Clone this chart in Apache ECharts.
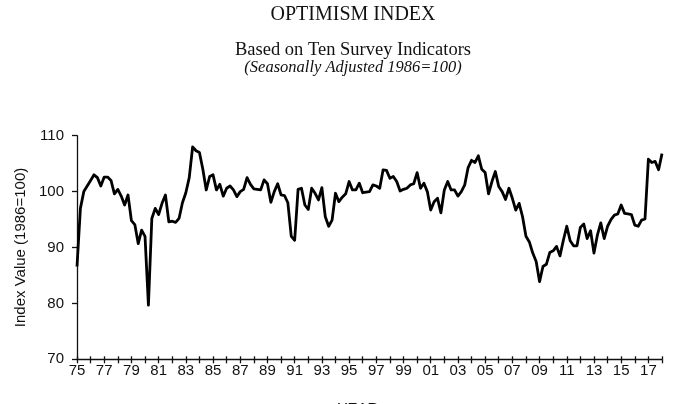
<!DOCTYPE html>
<html>
<head>
<meta charset="utf-8">
<script src="https://cdn.jsdelivr.net/npm/echarts@6/dist/echarts.min.js"></script>
<style>html,body{margin:0;padding:0;background:#fff;}#c{width:680px;height:404px;}</style>
</head>
<body>
<div id="c"></div>
<script>
// Quarterly index values, first quarter of 1975 onward
const startYear = 1975;
const optimism = [
  86.6, 97.0, 100.0, 101.0,
  102.0, 103.0, 102.5, 101.0,
  102.6, 102.6, 102.0, 99.6,
  100.4, 99.2, 97.6, 99.4,
  94.8, 94.1, 90.7, 93.1,
  92.0, 79.7, 95.2, 97.0,
  95.9, 97.9, 99.4, 94.6,
  94.7, 94.5, 95.2, 98.0,
  99.8, 102.5, 108.0, 107.3,
  107.0, 104.0, 100.3, 102.7,
  103.0, 100.3, 101.3, 99.2,
  100.6, 101.0, 100.3, 99.1,
  100.0, 100.4, 102.5, 101.3,
  100.5, 100.4, 100.3, 102.1,
  101.4, 98.1, 100.0, 101.4,
  99.4, 99.3, 98.0, 92.0,
  91.3, 100.4, 100.6, 97.6,
  96.8, 100.6, 99.7, 98.5,
  100.7, 95.5, 93.8, 94.9,
  99.7, 98.2, 99.0, 99.6,
  101.8, 100.3, 100.3, 101.5,
  99.8, 99.9, 100.0, 101.2,
  101.0, 100.6, 103.9, 103.8,
  102.4, 102.7, 101.8, 100.1,
  100.4, 100.6, 101.2, 101.4,
  103.4, 100.6, 101.5, 100.0,
  96.7, 98.2, 98.8, 96.2,
  100.3, 101.8, 100.3, 100.3,
  99.2, 100.0, 101.2, 104.3,
  105.6, 105.2, 106.4, 104.0,
  103.4, 99.6, 101.8, 103.6,
  100.9, 100.0, 98.6, 100.6,
  98.8, 96.7, 97.9, 95.5,
  92.0, 91.0, 89.0, 87.5,
  83.9, 86.6, 87.0, 89.1,
  89.4, 90.2, 88.5, 91.3,
  93.8, 91.2, 90.3, 90.3,
  93.6, 94.2, 91.6, 93.0,
  89.0, 92.2, 94.4, 91.6,
  93.8, 95.0, 95.8, 96.0,
  97.6, 96.1, 96.0, 95.9,
  94.0, 93.8, 94.9, 95.1,
  105.8, 105.2, 105.4, 103.9,
  106.8
];
const yearMin = 1975, yearMax = 2018;
const yMin = 70, yMax = 110, yStep = 10;
const titleText = 'OPTIMISM INDEX';
const subText = 'Based on Ten Survey Indicators';
const noteText = '(Seasonally Adjusted 1986=100)';
const yName = 'Index Value (1986=100)';
const xName = 'YEAR';

const seriesData = optimism.map((v, i) => [startYear + i / 4, v]);
const sans = 'Liberation Sans';
const serif = 'Liberation Serif';

const chart = echarts.init(document.getElementById('c'), null, {renderer: 'canvas'});
const xLabel = v => (Math.round(v) % 2 === 1) ? String(Math.round(v) % 100).padStart(2, '0') : '';
chart.setOption({
  animation: false,
  backgroundColor: '#fff',
  graphic: [
    {type: 'text', x: 353, y: 15, style: {text: titleText, font: '20px ' + serif, fill: '#111', align: 'center', verticalAlign: 'middle'}},
    {type: 'text', x: 353, y: 50, style: {text: subText, font: '18.5px ' + serif, fill: '#111', align: 'center', verticalAlign: 'middle'}},
    {type: 'text', x: 353, y: 67.5, style: {text: noteText, font: 'italic 16.5px ' + serif, fill: '#111', align: 'center', verticalAlign: 'middle'}},
    {type: 'text', x: 358, y: 401, style: {text: xName, font: '15px ' + sans, fill: '#111', align: 'center', verticalAlign: 'top'}}
  ],
  grid: {left: 77, right: 18, top: 135.7, bottom: 44.7, containLabel: false},
  xAxis: [
    {
      type: 'value', min: yearMin, max: yearMax, interval: 1, position: 'bottom',
      axisLine: {show: true, lineStyle: {color: '#111', width: 1.3}},
      axisTick: {show: true, inside: false, length: 4, lineStyle: {color: '#111', width: 1.3}},
      axisLabel: {formatter: xLabel, fontFamily: sans, fontSize: 15, color: '#111', margin: 4, showMinLabel: true, showMaxLabel: true},
      splitLine: {show: false}
    },
    {
      type: 'value', min: yearMin, max: yearMax, interval: 1, position: 'bottom', offset: 0,
      axisLine: {show: false},
      axisTick: {show: true, inside: true, length: 3, lineStyle: {color: '#111', width: 1.3}},
      axisLabel: {show: false},
      splitLine: {show: false}
    }
  ],
  yAxis: {
    type: 'value', min: yMin, max: yMax, interval: yStep,
    name: yName, nameLocation: 'middle', nameGap: 47, nameRotate: 90,
    nameTextStyle: {fontFamily: sans, fontSize: 15, color: '#111'},
    axisLine: {show: true, lineStyle: {color: '#111', width: 1.3}},
    axisTick: {show: true, inside: false, length: 5, lineStyle: {color: '#111', width: 1.3}},
    axisLabel: {fontFamily: sans, fontSize: 15, color: '#111', margin: 13},
    splitLine: {show: false}
  },
  series: [{
    type: 'line', data: seriesData, xAxisIndex: 0, showSymbol: false, symbol: 'none',
    lineStyle: {color: '#000', width: 2.8, join: 'round'}
  }]
});
</script>
</body>
</html>
